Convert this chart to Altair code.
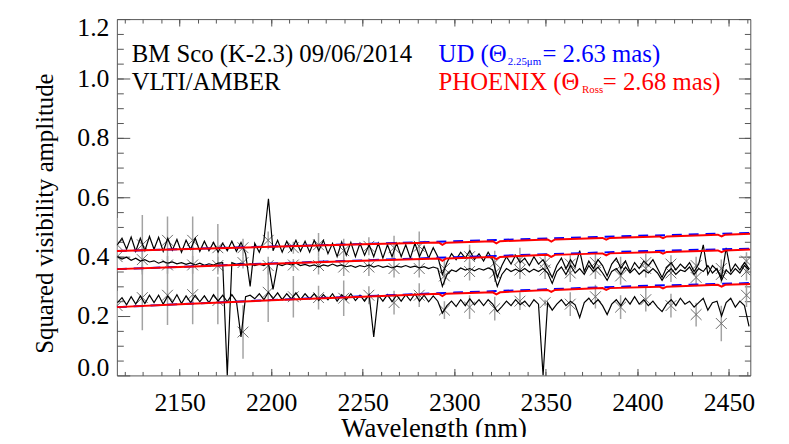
import altair as alt
import pandas as pd

# ---------------- data ----------------
WAVELENGTH = [
    2116, 2118.5, 2121, 2123.5, 2126, 2128.5, 2131, 2133.5, 2136, 2138.5,
    2141, 2143.5, 2146, 2148.5, 2151, 2153.5, 2156, 2158.5, 2161, 2163.5,
    2166, 2168.5, 2171, 2173.5, 2176, 2178.5, 2181, 2183.5, 2186, 2188.5,
    2191, 2193.5, 2196, 2198.5, 2201, 2203.5, 2206, 2208.5, 2211, 2213.5,
    2216, 2218.5, 2221, 2223.5, 2226, 2228.5, 2231, 2233.5, 2236, 2238.5,
    2241, 2243.5, 2246, 2248.5, 2251, 2253.5, 2256, 2258.5, 2261, 2263.5,
    2266, 2268.5, 2271, 2273.5, 2276, 2278.5, 2281, 2283.5, 2286, 2288.5,
    2291, 2293.5, 2296, 2298.5, 2301, 2303.5, 2306, 2308.5, 2311, 2313.5,
    2316, 2318.5, 2321, 2323.5, 2326, 2328.5, 2331, 2333.5, 2336, 2338.5,
    2341, 2343.5, 2346, 2348.5, 2351, 2353.5, 2356, 2358.5, 2361, 2363.5,
    2366, 2368.5, 2371, 2373.5, 2376, 2378.5, 2381, 2383.5, 2386, 2388.5,
    2391, 2393.5, 2396, 2398.5, 2401, 2403.5, 2406, 2408.5, 2411, 2413.5,
    2416, 2418.5, 2421, 2423.5, 2426, 2428.5, 2431, 2433.5, 2436, 2438.5,
    2441, 2443.5, 2446, 2448.5, 2451, 2453.5, 2456, 2458.5, 2461,
]

VIS_A = [
    0.440, 0.462, 0.425, 0.466, 0.418, 0.462, 0.420, 0.468, 0.425, 0.465,
    0.418, 0.462, 0.422, 0.458, 0.415, 0.455, 0.425, 0.462, 0.418, 0.452,
    0.420, 0.448, 0.415, 0.445, 0.420, 0.452, 0.418, 0.448, 0.410, 0.300,
    0.445, 0.415, 0.455, 0.595, 0.420, 0.455, 0.415, 0.452, 0.420, 0.455,
    0.418, 0.452, 0.415, 0.455, 0.420, 0.455, 0.410, 0.445, 0.400, 0.450,
    0.405, 0.448, 0.400, 0.445, 0.405, 0.440, 0.400, 0.445, 0.395, 0.440,
    0.400, 0.445, 0.400, 0.440, 0.395, 0.445, 0.400, 0.435, 0.395, 0.430,
    0.400, 0.340, 0.380, 0.410, 0.390, 0.415, 0.395, 0.420, 0.390, 0.410,
    0.385, 0.415, 0.390, 0.330, 0.370, 0.400, 0.375, 0.405, 0.380, 0.395,
    0.370, 0.400, 0.375, 0.390, 0.360, 0.330, 0.370, 0.395, 0.360, 0.390,
    0.365, 0.420, 0.350, 0.385, 0.360, 0.390, 0.370, 0.335, 0.375, 0.395,
    0.360, 0.385, 0.350, 0.380, 0.360, 0.385, 0.370, 0.390, 0.360, 0.330,
    0.365, 0.380, 0.355, 0.375, 0.360, 0.380, 0.350, 0.375, 0.440, 0.340,
    0.370, 0.355, 0.330, 0.430, 0.350, 0.375, 0.355, 0.380, 0.360,
]

VIS_B = [
    0.400, 0.392, 0.398, 0.388, 0.395, 0.385, 0.390, 0.382, 0.386, 0.378,
    0.384, 0.378, 0.382, 0.376, 0.380, 0.374, 0.379, 0.372, 0.378, 0.371,
    0.376, 0.372, 0.378, 0.380, 0.000, 0.380, 0.374, 0.378, 0.372, 0.376,
    0.370, 0.375, 0.370, 0.378, 0.290, 0.375, 0.370, 0.376, 0.372, 0.378,
    0.370, 0.374, 0.368, 0.372, 0.366, 0.372, 0.368, 0.375, 0.368, 0.372,
    0.366, 0.370, 0.364, 0.370, 0.366, 0.372, 0.365, 0.370, 0.364, 0.368,
    0.362, 0.368, 0.365, 0.370, 0.364, 0.368, 0.362, 0.366, 0.360, 0.365,
    0.360, 0.300, 0.340, 0.355, 0.350, 0.362, 0.355, 0.360, 0.352, 0.360,
    0.355, 0.362, 0.355, 0.300, 0.340, 0.360, 0.350, 0.358, 0.350, 0.360,
    0.348, 0.358, 0.350, 0.360, 0.345, 0.310, 0.350, 0.365, 0.340, 0.370,
    0.345, 0.360, 0.340, 0.370, 0.350, 0.365, 0.345, 0.320, 0.350, 0.360,
    0.340, 0.365, 0.345, 0.360, 0.340, 0.355, 0.345, 0.360, 0.345, 0.320,
    0.345, 0.360, 0.340, 0.355, 0.350, 0.365, 0.340, 0.360, 0.350, 0.370,
    0.345, 0.360, 0.320, 0.355, 0.340, 0.360, 0.345, 0.370, 0.355,
]

VIS_C = [
    0.245, 0.262, 0.238, 0.265, 0.240, 0.268, 0.242, 0.270, 0.245, 0.270,
    0.240, 0.268, 0.245, 0.272, 0.242, 0.268, 0.245, 0.270, 0.248, 0.268,
    0.245, 0.272, 0.250, 0.270, 0.248, 0.272, 0.250, 0.130, 0.265, 0.270,
    0.258, 0.275, 0.255, 0.280, 0.258, 0.278, 0.255, 0.275, 0.258, 0.278,
    0.255, 0.275, 0.258, 0.275, 0.252, 0.272, 0.255, 0.275, 0.250, 0.272,
    0.255, 0.275, 0.252, 0.270, 0.250, 0.272, 0.130, 0.270, 0.250, 0.272,
    0.248, 0.270, 0.250, 0.272, 0.252, 0.275, 0.250, 0.270, 0.248, 0.268,
    0.250, 0.210, 0.235, 0.250, 0.232, 0.255, 0.235, 0.258, 0.238, 0.255,
    0.235, 0.255, 0.240, 0.215, 0.232, 0.250, 0.235, 0.255, 0.238, 0.250,
    0.232, 0.255, 0.240, 0.000, 0.245, 0.220, 0.240, 0.255, 0.235, 0.250,
    0.238, 0.195, 0.245, 0.260, 0.240, 0.255, 0.235, 0.205, 0.240, 0.255,
    0.235, 0.260, 0.240, 0.265, 0.240, 0.255, 0.235, 0.250, 0.230, 0.215,
    0.240, 0.255, 0.235, 0.260, 0.240, 0.250, 0.230, 0.245, 0.260, 0.220,
    0.245, 0.250, 0.200, 0.245, 0.260, 0.230, 0.250, 0.235, 0.165,
]

# error-bar sample points (every 10th channel)
ERR_WL = [2115.85, 2129.6, 2143.35, 2157.1, 2170.85, 2184.6, 2198.35, 2212.1,
          2225.85, 2239.6, 2253.35, 2267.1, 2280.85, 2294.6, 2308.35, 2322.1,
          2335.85, 2349.6, 2363.35, 2377.1, 2390.85, 2404.6, 2418.35, 2432.1,
          2445.85, 2459.6]
MARK_A = [0.44, 0.44, 0.455, 0.455, 0.43, 0.43, 0.455, 0.43, 0.44, 0.42, 0.435,
          0.43, 0.435, 0.36, 0.40, 0.38, 0.39, 0.38, 0.375, 0.38, 0.37, 0.38,
          0.375, 0.37, 0.36, 0.385]
ERR_A = [0.09, 0.10, 0.08, 0.08, 0.08, 0.03, 0.03, 0.02, 0.04, 0.04, 0.03, 0.04,
         0.05, 0.03, 0.04, 0.04, 0.04, 0.03, 0.03, 0.03, 0.03, 0.03, 0.03, 0.03,
         0.03, 0.03]
MARK_B = [0.40, 0.39, 0.372, 0.372, 0.37, 0.38, 0.37, 0.372, 0.37, 0.365, 0.365,
          0.36, 0.36, 0.335, 0.35, 0.345, 0.355, 0.355, 0.345, 0.355, 0.335, 0.36,
          0.345, 0.33, 0.34, 0.35]
ERR_B = [0.03, 0.04, 0.03, 0.03, 0.03, 0.02, 0.03, 0.02, 0.03, 0.03, 0.03, 0.03,
         0.03, 0.03, 0.03, 0.03, 0.03, 0.03, 0.03, 0.03, 0.03, 0.03, 0.03, 0.03,
         0.03, 0.03]
MARK_C = [0.235, 0.262, 0.27, 0.272, 0.252, 0.146, 0.28, 0.265, 0.262, 0.26,
          0.27, 0.245, 0.27, 0.22, 0.23, 0.225, 0.25, 0.245, 0.24, 0.265, 0.23,
          0.255, 0.235, 0.205, 0.175, 0.27]
ERR_C = [0.05, 0.11, 0.10, 0.10, 0.08, 0.09, 0.10, 0.07, 0.04, 0.06, 0.03, 0.04,
         0.04, 0.03, 0.04, 0.04, 0.03, 0.01, 0.04, 0.04, 0.04, 0.04, 0.04, 0.04,
         0.06, 0.04]

# PHOENIX model (with CO band-head dips)
MODEL_WL = [2115.7, 2150, 2200, 2250, 2291.5, 2293.5, 2295.5, 2321, 2323, 2325,
            2351, 2353, 2355, 2381, 2383, 2385, 2412, 2414, 2416, 2444, 2446,
            2448, 2461.7]
PHX_A = [0.419, 0.425, 0.433, 0.442, 0.448, 0.440, 0.447, 0.452, 0.445, 0.452,
         0.458, 0.451, 0.458, 0.463, 0.457, 0.463, 0.468, 0.462, 0.468, 0.474,
         0.468, 0.474, 0.477]
PHX_B = [0.358, 0.365, 0.376, 0.386, 0.394, 0.386, 0.394, 0.399, 0.392, 0.399,
         0.406, 0.399, 0.406, 0.411, 0.404, 0.411, 0.416, 0.410, 0.416, 0.421,
         0.415, 0.421, 0.424]
PHX_C = [0.230, 0.240, 0.253, 0.265, 0.275, 0.267, 0.275, 0.280, 0.273, 0.280,
         0.288, 0.281, 0.288, 0.294, 0.288, 0.294, 0.299, 0.293, 0.299, 0.305,
         0.299, 0.305, 0.308]

# uniform-disk model
UD_WL = [2115.7, 2200, 2300, 2400, 2461.7]
UD_A = [0.419, 0.434, 0.452, 0.470, 0.480]
UD_B = [0.358, 0.377, 0.398, 0.418, 0.427]
UD_C = [0.230, 0.254, 0.279, 0.301, 0.311]

X_MAJOR = [2150, 2200, 2250, 2300, 2350, 2400, 2450]
X_MINOR = list(range(2120, 2461, 10))
Y_MAJOR = [0.0, 0.2, 0.4, 0.6, 0.8, 1.0, 1.2]
Y_MINOR = [round(0.05 * k, 2) for k in range(1, 24)]

# ---------------- tables ----------------
obs_df = pd.concat([
    pd.DataFrame({"wl": WAVELENGTH, "v": vals, "series": name})
    for name, vals in (("A", VIS_A), ("B", VIS_B), ("C", VIS_C))
])
err_df = pd.concat([
    pd.DataFrame({"wl": ERR_WL, "v": m, "err": e, "series": name})
    for name, m, e in (("A", MARK_A, ERR_A), ("B", MARK_B, ERR_B), ("C", MARK_C, ERR_C))
])
err_df["lo"] = err_df["v"] - err_df["err"]
err_df["hi"] = err_df["v"] + err_df["err"]
phx_df = pd.concat([
    pd.DataFrame({"wl": MODEL_WL, "v": vals, "series": name})
    for name, vals in (("A", PHX_A), ("B", PHX_B), ("C", PHX_C))
])
ud_df = pd.concat([
    pd.DataFrame({"wl": UD_WL, "v": vals, "series": name})
    for name, vals in (("A", UD_A), ("B", UD_B), ("C", UD_C))
])

# ---------------- styling ----------------
FONT = "Liberation Serif, Times New Roman, Times, DejaVu Serif, serif"
AX = "#555555"
W, H = 640, 360

xs = alt.Scale(domain=[2115.7, 2461.7], nice=False, zero=False)
ys = alt.Scale(domain=[0.0, 1.2], nice=False, zero=False)


def tick_axis(orient, values, size, offset):
    return alt.Axis(orient=orient, offset=offset, values=values, ticks=True,
                    tickSize=size, tickColor=AX, tickWidth=1, labels=False,
                    domain=False, grid=False, title=None)


ax_bottom = alt.Axis(orient="bottom", values=X_MAJOR, ticks=False, domain=False,
                     grid=False, format="d", labelFont=FONT, labelFontSize=26,
                     labelColor="black", labelBaseline="alphabetic",
                     labelPadding=35, labelFlush=False,
                     title="Wavelength (nm)", titleFont=FONT, titleFontSize=27,
                     titleFontWeight="normal", titleColor="black",
                     titleBaseline="alphabetic", titleX=320, titleY=62)
ax_left = alt.Axis(orient="left", values=Y_MAJOR, ticks=False, domain=False,
                   grid=False, format=".1f", labelFont=FONT, labelFontSize=26,
                   labelColor="black", labelPadding=8, labelFlush=False,
                   labelBaseline={"condition": [
                       {"test": "datum.value < 0.001", "value": "alphabetic"}],
                       "value": "middle"},
                   labelOffset={"condition": [
                       {"test": "datum.value > 1.199", "value": 9}],
                       "value": 0},
                   title="Squared visibility amplitude", titleFont=FONT,
                   titleFontSize=25, titleFontWeight="normal", titleColor="black",
                   titleAngle=270, titleBaseline="alphabetic", titleX=-65, titleY=196)

err_rules = alt.Chart(err_df).mark_rule(color="#a3a3a3", strokeWidth=1.5, clip=True).encode(
    x=alt.X("wl:Q", scale=xs, axis=ax_bottom),
    y=alt.Y("lo:Q", scale=ys, axis=ax_left),
    y2="hi:Q",
)
markers = alt.Chart(err_df).mark_point(
    shape="M-1,-1L1,1M-1,1L1,-1", size=120, color="#6a6a6a", strokeWidth=1,
    filled=False, opacity=1, clip=True,
).encode(
    x=alt.X("wl:Q", scale=xs, axis=tick_axis("top", X_MAJOR, 7, -H)),
    y=alt.Y("v:Q", scale=ys, axis=tick_axis("right", Y_MAJOR, 13, -W)),
)
obs_lines = alt.Chart(obs_df).mark_line(color="black", strokeWidth=1.2, clip=True).encode(
    x=alt.X("wl:Q", scale=xs, axis=tick_axis("top", X_MINOR, 4, -H)),
    y=alt.Y("v:Q", scale=ys, axis=tick_axis("right", Y_MINOR, 6.5, -W)),
    detail="series:N",
)
ud_lines = alt.Chart(ud_df).mark_line(color="#0000ff", strokeWidth=2, strokeDash=[10, 7], clip=True).encode(
    x=alt.X("wl:Q", scale=xs, axis=tick_axis("bottom", X_MAJOR, 7, -H)),
    y=alt.Y("v:Q", scale=ys, axis=tick_axis("left", Y_MAJOR, 12, -W)),
    detail="series:N",
)
phx_lines = alt.Chart(phx_df).mark_line(color="#ff0000", strokeWidth=2, clip=True).encode(
    x=alt.X("wl:Q", scale=xs, axis=tick_axis("bottom", X_MINOR, 4, -H)),
    y=alt.Y("v:Q", scale=ys, axis=tick_axis("left", Y_MINOR, 6, -W)),
    detail="series:N",
)

dummy = pd.DataFrame({"k": [0]})


def label(text, x, y, color="black", size=25):
    return alt.Chart(dummy).mark_text(
        text=text, align="left", baseline="alphabetic", font=FONT,
        fontSize=size, color=color,
    ).encode(x=alt.value(x), y=alt.value(y))


texts = [
    label("BM Sco (K-2.3) 09/06/2014", 15, 43),
    label("VLTI/AMBER", 15, 71.5),
    label("UD (\u0398", 325, 43, "#0000ff"),
    label("2.25\u03bcm", 395, 46.5, "#0000ff", 11),
    label("= 2.63 mas)", 430, 43, "#0000ff"),
    label("PHOENIX (\u0398", 325, 72, "#ff0000"),
    label("Ross", 470, 74.5, "#ff0000", 11),
    label("= 2.68 mas)", 491, 72, "#ff0000"),
]

chart = alt.layer(err_rules, markers, obs_lines, ud_lines, phx_lines, *texts).resolve_axis(
    x="independent", y="independent"
).properties(
    width=W, height=H,
    autosize=alt.AutoSizeParams(type="none"),
    padding={"left": 110, "top": 9, "right": 31, "bottom": 60},
).configure_view(stroke=AX, strokeWidth=1)

chart.save("out.html", embed_options={"renderer": "svg", "actions": False})
